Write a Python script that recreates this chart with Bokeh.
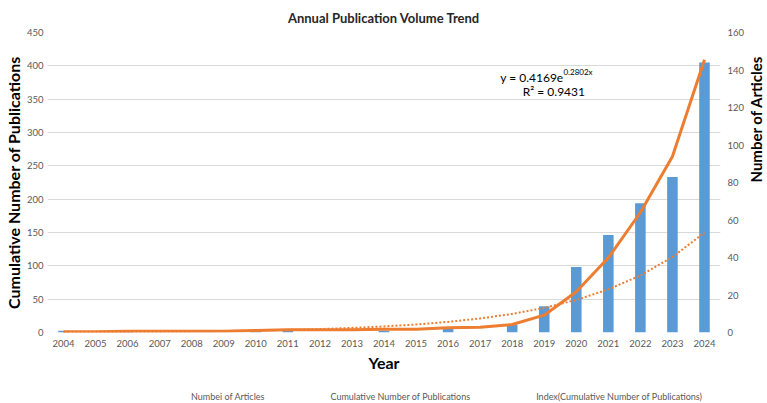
import math
from bokeh.plotting import figure
from bokeh.layouts import column
from bokeh.models import (FactorRange, Range1d, LinearAxis, Legend, LegendItem,
                          Label, ColumnDataSource, FixedTicker)
from bokeh.embed import file_html
from bokeh.resources import INLINE

years = [str(y) for y in range(2004, 2025)]
articles = [1, 0, 1, 0, 0, 0, 1, 1, 0, 0, 1, 0, 2, 0, 4, 14, 35, 52, 69, 83, 144]
cumulative = [1, 1, 2, 2, 2, 2, 3, 4, 4, 4, 5, 5, 7, 8, 12, 26, 61, 112, 180, 264, 409]
trend = [0.55, 0.73, 0.97, 1.28, 1.69, 2.24, 2.96, 3.92, 5.19, 6.87, 9.09,
         12.03, 15.92, 21.07, 27.89, 36.91, 48.84, 64.64, 85.55, 113.21, 149.83]
left_ticks = [0, 50, 100, 150, 200, 250, 300, 350, 400, 450]
right_ticks = [0, 20, 40, 60, 80, 100, 120, 140, 160]
series_names = ["Numbei of Articles", "Cumulative Number of Publications",
                "Index(Cumulative Number of Publications)"]

FONT = "Lato"
TICK_COLOR = "#595959"
BAR_COLOR = "#5B9BD5"
LINE_COLOR = "#ED7D31"

src = ColumnDataSource(dict(year=years, articles=articles, cum=cumulative, trend=trend))

FW, FH = 673, 300
BOTTOM = 58
p = figure(x_range=FactorRange(*years, range_padding=0), y_range=Range1d(0, 450),
           frame_width=FW, frame_height=FH, output_backend="svg", toolbar_location=None,
           min_border_left=47, min_border_right=47, min_border_top=32,
           min_border_bottom=BOTTOM)
p.extra_y_ranges = {"right": Range1d(0, 160)}

p.title.text = "Annual Publication Volume Trend"
p.title.align = "center"
p.title.text_font = FONT
p.title.text_font_size = "13px"
p.title.text_font_style = "bold"
p.title.text_color = "#262626"
p.title.standoff = 13

p.outline_line_color = None
p.background_fill_color = "white"
p.border_fill_color = "white"
p.xgrid.grid_line_color = None
p.ygrid.grid_line_color = "#D9D9D9"
p.ygrid.ticker = FixedTicker(ticks=left_ticks)

yl = p.yaxis[0]
yl.ticker = FixedTicker(ticks=left_ticks)
yl.axis_label = "Cumulative Number of Publications"
yr = LinearAxis(y_range_name="right", ticker=FixedTicker(ticks=right_ticks),
                axis_label="Number of Articles")
p.add_layout(yr, "right")
xa = p.xaxis[0]
xa.axis_label = "Year"

for ax in [yl, yr, xa]:
    ax.axis_line_color = None
    ax.major_tick_line_color = None
    ax.minor_tick_line_color = None
    ax.major_tick_out = 0
    ax.major_tick_in = 0
    ax.minor_tick_out = 0
    ax.major_label_text_font = FONT
    ax.major_label_text_font_size = "9.5px"
    ax.major_label_text_color = TICK_COLOR
    ax.axis_label_text_font = FONT
    ax.axis_label_text_font_style = "bold"
    ax.axis_label_text_color = "#000000"
yl.major_label_standoff = 4
yl.axis_label_standoff = 1
yr.major_label_standoff = 7
yr.axis_label_standoff = 9
yr.axis_label_orientation = math.pi / 2
xa.major_label_standoff = 7
xa.axis_label_standoff = 3
yl.axis_label_text_font_size = "16px"
yr.axis_label_text_font_size = "15px"
xa.axis_label_text_font_size = "16px"

bars = p.vbar(x="year", top="articles", width=0.33, source=src,
              y_range_name="right", fill_color=BAR_COLOR, line_color=None)
cum_line = p.line(x="year", y="cum", source=src, line_width=3, color=LINE_COLOR)
trend_line = p.line(x="year", y="trend", source=src, line_width=2,
                    line_dash="2 2", color=LINE_COLOR)

eq_main = Label(x=16.1, y=383, text="y = 0.4169e", text_align="right",
                text_baseline="alphabetic", text_font=FONT, text_font_size="12px",
                text_color="#000000")
eq_sup = Label(x=16.1, y=391, text="0.2802x", text_align="left",
               text_baseline="alphabetic", text_font=FONT, text_font_size="8px",
               text_color="#000000")
r2 = Label(x=15.8, y=362, text="R² = 0.9431", text_align="center",
           text_baseline="alphabetic", text_font=FONT, text_font_size="12px",
           text_color="#000000")
for lab in [eq_main, eq_sup, r2]:
    p.add_layout(lab)

# legend strip below the chart (a second, axis-less figure)
LEG_H = 403 - (32 + FH + BOTTOM)
q = figure(width=767, height=LEG_H, output_backend="svg", toolbar_location=None,
           x_range=Range1d(0, 1), y_range=Range1d(0, 1), min_border=0)
q.axis.visible = False
q.grid.grid_line_color = None
q.outline_line_color = None
q.background_fill_color = "white"
q.border_fill_color = "white"
leg_bar = q.vbar(x=[], top=[], width=0.33, fill_color=BAR_COLOR, line_color=None)
leg_line = q.line(x=[], y=[], line_width=3, color=LINE_COLOR)
leg_trend = q.line(x=[], y=[], line_width=2, line_dash="2 2", color=LINE_COLOR)

legend = Legend(items=[
    LegendItem(label=series_names[0], renderers=[leg_bar]),
    LegendItem(label=series_names[1], renderers=[leg_line]),
    LegendItem(label=series_names[2], renderers=[leg_trend]),
], orientation="horizontal", location=(116, 1))
legend.border_line_color = None
legend.background_fill_alpha = 0
legend.label_text_font = FONT
legend.label_text_font_size = "9px"
legend.label_text_color = TICK_COLOR
legend.label_height = 10
legend.glyph_width = 25
legend.glyph_height = 7
legend.label_standoff = 3
legend.spacing = 38
legend.padding = 0
legend.margin = 0
q.add_layout(legend, "center")

layout = column(p, q, spacing=0)
open("out.html", "w").write(file_html(layout, INLINE))
